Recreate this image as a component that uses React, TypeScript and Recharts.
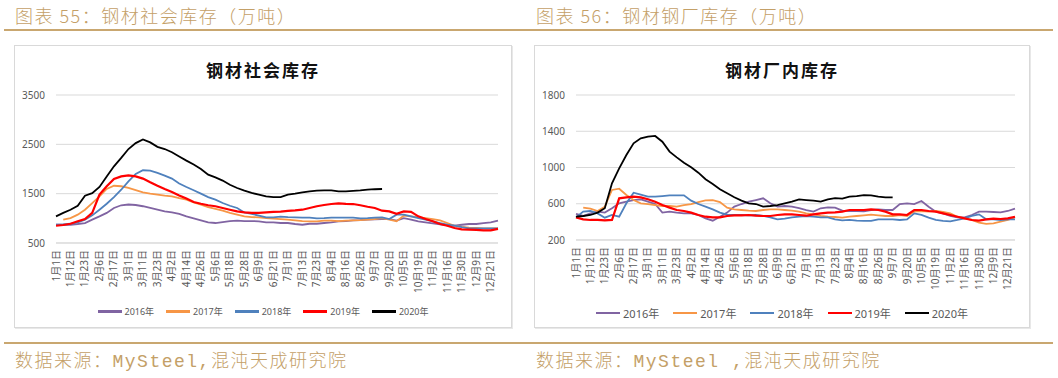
import React from 'react';
import { LineChart, Line, XAxis, YAxis, CartesianGrid } from 'recharts';

// 日期标签（每隔一个显示）
const dates = [
  '1月1日', '1月6日', '1月12日', '1月18日', '1月23日', '1月30日', '2月6日', '2月11日',
  '2月17日', '2月24日', '3月1日', '3月6日', '3月11日', '3月17日', '3月23日', '3月28日',
  '4月2日', '4月8日', '4月14日', '4月20日', '4月26日', '5月1日', '5月6日', '5月12日',
  '5月18日', '5月23日', '5月28日', '6月3日', '6月9日', '6月15日', '6月21日', '6月26日',
  '7月1日', '7月7日', '7月13日', '7月18日', '7月23日', '7月29日', '8月4日', '8月10日',
  '8月16日', '8月21日', '8月26日', '9月1日', '9月7日', '9月13日', '9月20日', '9月27日',
  '10月5日', '10月12日', '10月19日', '10月26日', '11月2日', '11月9日', '11月16日', '11月23日',
  '11月30日', '12月4日', '12月9日', '12月15日', '12月21日', '12月27日',
];

const years = ['2016年', '2017年', '2018年', '2019年', '2020年'];
const colors = ['#8064A2', '#F79646', '#4F81BD', '#FF0000', '#000000'];

// 钢材社会库存（万吨）
const social2016 = [
  870, 870, 870, 885, 905, 975, 1040, 1110, 1210, 1265, 1280, 1270, 1245, 1210, 1175, 1140,
  1120, 1090, 1040, 1000, 960, 920, 905, 925, 945, 955, 945, 945, 940, 920, 920, 905,
  905, 885, 870, 890, 890, 905, 920, 940, 945, 960, 965, 975, 980, 985, 985, 955,
  1005, 975, 940, 920, 900, 880, 860, 850, 870, 885, 885, 905, 920, 955,
];
const social2017 = [
  null, 975, 1005, 1075, 1175, 1310, 1445, 1595, 1660, 1650, 1615, 1570, 1525, 1500, 1480, 1460,
  1445, 1410, 1380, 1325, 1275, 1225, 1190, 1155, 1110, 1075, 1040, 1025, 1020, 1005, 995, 985,
  975, 960, 945, 940, 940, 955, 955, 945, 955, 960, 965, 975, 985, 1005, 975, 940,
  1055, 1040, 1025, 1005, 985, 960, 905, 850, 825, 810, 805, 795, 795, 795,
];
const social2018 = [
  870, 875, 890, 920, 975, 1060, 1175, 1295, 1430, 1580, 1750, 1900, 1975, 1965, 1920, 1865,
  1805, 1705, 1635, 1570, 1500, 1430, 1380, 1310, 1255, 1210, 1120, 1090, 1055, 1020, 1020, 1035,
  1025, 1020, 1015, 1015, 1000, 1005, 1015, 1015, 1015, 1015, 1000, 1005, 1015, 1020, 985, 1075,
  1075, 1040, 1005, 975, 940, 905, 870, 850, 820, 795, 795, 795, 795, 795,
];
const social2019 = [
  850, 865, 890, 940, 985, 1110, 1480, 1650, 1800, 1850, 1870, 1850, 1805, 1730, 1660, 1595,
  1535, 1465, 1400, 1330, 1295, 1265, 1245, 1210, 1175, 1140, 1120, 1110, 1110, 1120, 1130, 1135,
  1150, 1160, 1175, 1210, 1245, 1270, 1290, 1305, 1295, 1290, 1265, 1235, 1210, 1155, 1140, 1090,
  1140, 1130, 1040, 985, 940, 885, 850, 805, 775, 770, 765, 755, 755, 785,
];
const social2020 = [
  1040, 1110, 1175, 1255, 1460, 1510, 1635, 1850, 2055, 2225, 2405, 2525, 2600, 2540, 2450, 2405,
  2340, 2255, 2170, 2090, 2000, 1885, 1830, 1765, 1680, 1615, 1560, 1515, 1480, 1445, 1430, 1430,
  1480, 1500, 1525, 1545, 1560, 1565, 1565, 1545, 1545, 1555, 1565, 1580, 1590, 1595,
];

// 钢材厂内库存（万吨）
const mill2016 = [
  487, 465, 494, 513, 502, 550, 605, 623, 641, 649, 623, 597, 502, 513, 502, 494,
  494, 476, 439, 413, 457, 502, 568, 597, 623, 641, 660, 605, 568, 575, 568, 553,
  531, 513, 550, 560, 557, 524, 520, 520, 516, 531, 538, 531, 531, 597, 605, 597,
  630, 568, 513, 494, 465, 450, 450, 476, 513, 513, 509, 505, 520, 546,
];
const mill2017 = [
  null, 557, 546, 520, 568, 752, 766, 697, 641, 605, 597, 586, 575, 575, 568, 586,
  597, 619, 638, 641, 619, 557, 538, 531, 524, 520, 531, 538, 538, 531, 524, 513,
  494, 483, 465, 457, 454, 446, 457, 465, 472, 480, 472, 465, 465, 476, 465, 513,
  520, 513, 520, 509, 494, 457, 439, 421, 391, 377, 384, 402, 421, 450,
];
const mill2018 = [
  450, 513, 520, 494, 446, 476, 457, 605, 722, 700, 678, 678, 685, 693, 693, 693,
  634, 597, 568, 538, 502, 480, 476, 476, 472, 476, 465, 450, 428, 435, 450, 457,
  465, 457, 450, 450, 428, 417, 421, 413, 410, 410, 428, 428, 428, 421, 428, 494,
  476, 446, 421, 410, 406, 421, 439, 465, 483, 428, 428, 421, 428, 428,
];
const mill2019 = [
  450, 428, 421, 421, 417, 421, 660, 671, 678, 671, 649, 623, 586, 557, 531, 520,
  502, 476, 457, 450, 450, 465, 472, 472, 476, 468, 465, 465, 476, 483, 483, 476,
  468, 483, 494, 502, 505, 513, 531, 531, 531, 538, 531, 513, 483, 483, 476, 531,
  531, 520, 513, 494, 476, 457, 439, 421, 413, 428, 435, 432, 439, 457,
];
const mill2020 = [
  457, 465, 476, 502, 550, 825, 990, 1138, 1267, 1322, 1340, 1348, 1285, 1175, 1112, 1053,
  1002, 943, 870, 818, 759, 715, 671, 634, 605, 597, 568, 575, 586, 605, 623, 649,
  641, 634, 623, 649, 663, 656, 678, 685, 696, 693, 678, 671, 671,
];

const socialTicks = [500, 1500, 2500, 3500];
const millTicks = [200, 600, 1000, 1400, 1800];

const gold = '#C4A067';
const axisGray = '#595959';
const cjk = '"Noto Sans", "Noto Sans CJK SC", sans-serif';

function buildRows(series: (number | null)[][]) {
  return dates.map((d, i) => {
    const row: Record<string, string | number | null> = { date: d };
    years.forEach((y, k) => {
      const v = series[k][i];
      row[y] = v === undefined ? null : v;
    });
    return row;
  });
}

const socialRows = buildRows([social2016, social2017, social2018, social2019, social2020]);
const millRows = buildRows([mill2016, mill2017, mill2018, mill2019, mill2020]);

function DateTick(props: any) {
  const { x, y, payload } = props;
  return (
    <g transform={`translate(${x},${y})`}>
      <text x={0} y={0} dy={3.5} textAnchor="end" transform="rotate(-90)" fontSize={10} fill={axisGray} fontFamily={cjk}>
        {payload.value}
      </text>
    </g>
  );
}

interface PanelProps {
  left: number;
  width: number;
  title: string;
  rows: Record<string, string | number | null>[];
  ticks: number[];
  margin: { top: number; right: number; left: number; bottom: number };
  legendGap: number;
  legendFont: number;
}

function Panel({ left, width, title, rows, ticks, margin, legendGap, legendFont }: PanelProps) {
  return (
    <div
      style={{
        position: 'absolute',
        left,
        top: 45,
        width,
        height: 283,
        boxSizing: 'border-box',
        border: '1px solid #d9d9d9',
        boxShadow: '1px 1px 0 #e8e8e8',
        background: '#fff',
      }}
    >
      <div
        style={{
          position: 'absolute',
          top: 11,
          left: 0,
          width: '100%',
          textAlign: 'center',
          fontFamily: '"Noto Sans CJK SC", sans-serif',
          fontWeight: 700,
          fontSize: 17,
          letterSpacing: 2,
          color: '#111',
        }}
      >
        {title}
      </div>
      <div style={{ position: 'absolute', left: -1, top: -1 }}>
        <LineChart width={width} height={283} data={rows} margin={margin}>
          <CartesianGrid vertical={false} stroke="#d9d9d9" />
          <XAxis
            dataKey="date"
            interval={1}
            tick={<DateTick />}
            tickLine={false}
            tickMargin={1}
            axisLine={{ stroke: '#d9d9d9' }}
            height={60}
          />
          <YAxis
            domain={[ticks[0], ticks[ticks.length - 1]]}
            ticks={ticks}
            width={42}
            axisLine={false}
            tickLine={false}
            tickMargin={5}
            tick={{ fontSize: 10, fill: axisGray, fontFamily: cjk }}
          />
          {years.map((y, k) => (
            <Line
              key={y}
              type="linear"
              dataKey={y}
              stroke={colors[k]}
              strokeWidth={k === 3 ? 2.2 : 1.8}
              dot={false}
              connectNulls={false}
              isAnimationActive={false}
            />
          ))}
        </LineChart>
      </div>
      <div
        style={{
          position: 'absolute',
          top: 259,
          left: 0,
          width: '100%',
          display: 'flex',
          justifyContent: 'center',
          gap: legendGap,
          fontFamily: cjk,
          fontSize: legendFont,
          color: axisGray,
        }}
      >
        {years.map((y, k) => (
          <div key={y} style={{ display: 'flex', alignItems: 'center' }}>
            <span style={{ display: 'inline-block', width: 24, height: 2.5, background: colors[k], marginRight: 3 }} />
            <span>{y}</span>
          </div>
        ))}
      </div>
    </div>
  );
}

const textStyle: React.CSSProperties = {
  position: 'absolute',
  fontFamily: '"Noto Sans CJK SC", sans-serif',
  fontWeight: 300,
  fontSize: 18,
  letterSpacing: 1.5,
  color: gold,
  whiteSpace: 'nowrap',
};

export default function App() {
  return (
    <div style={{ position: 'absolute', left: 0, top: 0, width: 1058, height: 378, background: '#fff', overflow: 'hidden' }}>
      <div style={{ ...textStyle, left: 15, top: 2 }}>图表 55：钢材社会库存（万吨）</div>
      <div style={{ ...textStyle, left: 536, top: 2 }}>图表 56：钢材钢厂库存（万吨）</div>
      <div style={{ position: 'absolute', left: 4, top: 29, width: 1049, height: 2, background: '#C9A770' }} />

      <Panel
        left={14}
        width={498}
        title="钢材社会库存"
        rows={socialRows}
        ticks={socialTicks}
        margin={{ top: 50, right: 14, left: 0, bottom: 25 }}
        legendGap={12}
        legendFont={9}
      />
      <Panel
        left={534}
        width={496}
        title="钢材厂内库存"
        rows={millRows}
        ticks={millTicks}
        margin={{ top: 50, right: 15, left: 0, bottom: 28 }}
        legendGap={14}
        legendFont={11}
      />

      <div style={{ position: 'absolute', left: 4, top: 342, width: 1049, height: 2, background: '#C9A770' }} />
      <div style={{ ...textStyle, left: 15, top: 346, fontFamily: '"Liberation Mono", "Noto Sans CJK SC", monospace' }}>
        数据来源：MySteel,混沌天成研究院
      </div>
      <div style={{ ...textStyle, left: 536, top: 346, fontFamily: '"Liberation Mono", "Noto Sans CJK SC", monospace' }}>
        数据来源：MySteel ,混沌天成研究院
      </div>
    </div>
  );
}
